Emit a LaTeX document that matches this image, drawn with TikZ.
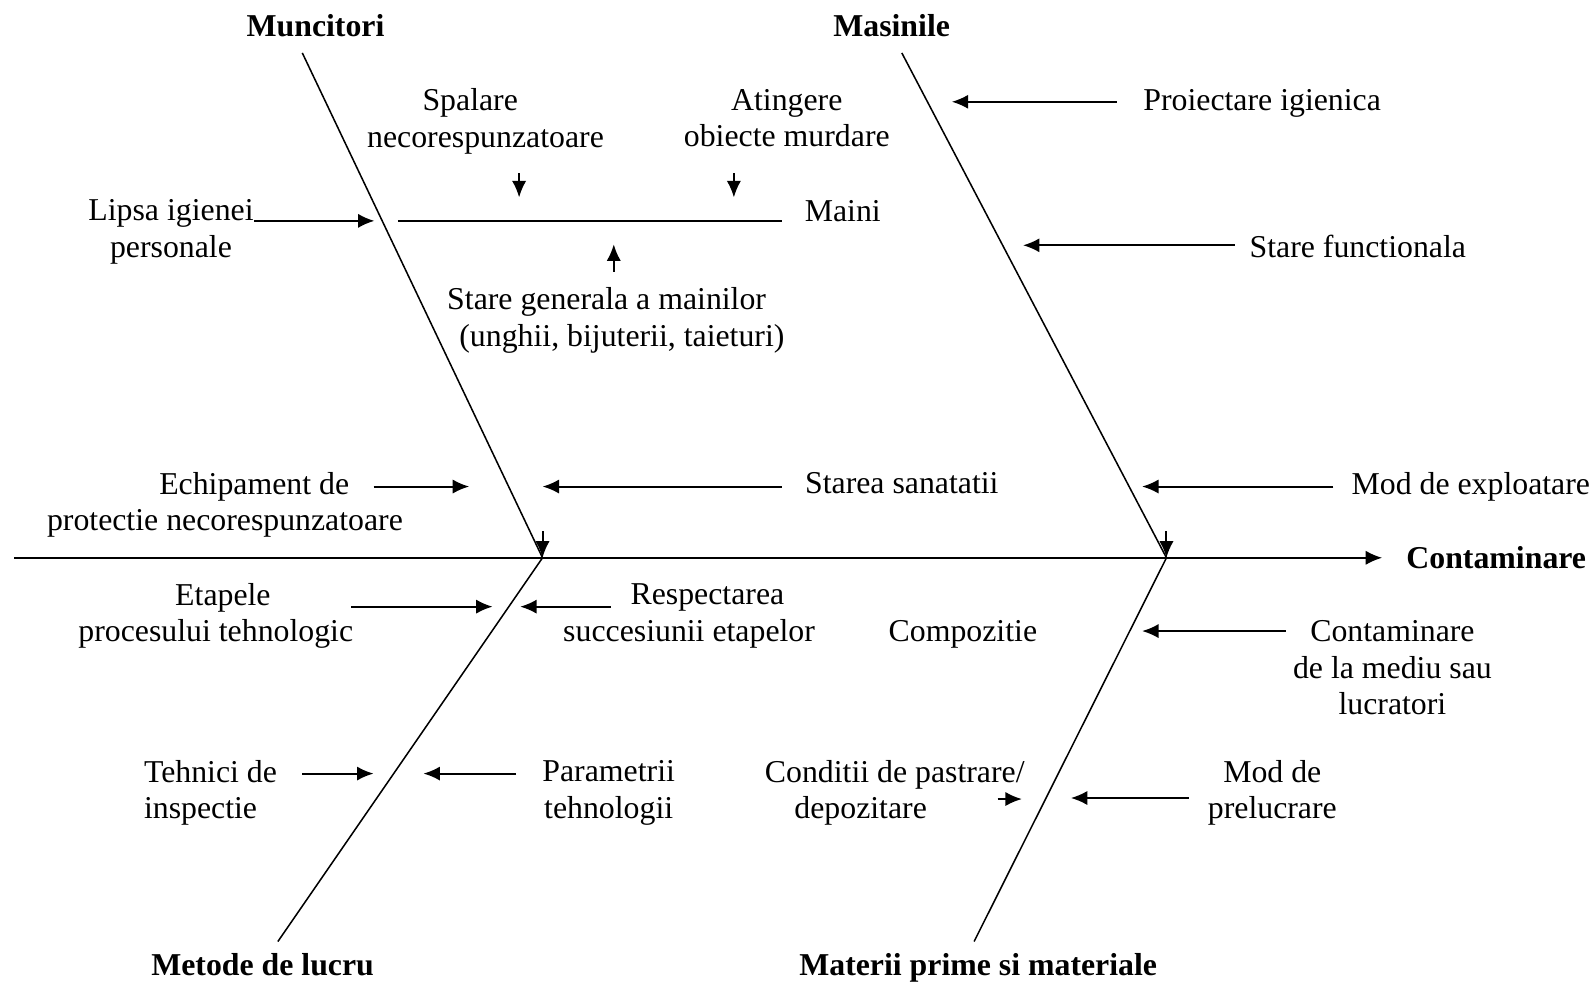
\documentclass[tikz,border=0pt]{standalone}
\usepackage{fontspec}
\setmainfont{Liberation Serif}
\usetikzlibrary{arrows.meta}
\usetikzlibrary{positioning}

\begin{document}
\begin{tikzpicture}[x=0.4pt,y=-0.4pt]
	%\draw[help lines] (0,0) grid[step=100] (1568,966);
	\useasboundingbox (0,0) rectangle (1568,966);
	
	\tikzstyle{tnode} = [inner sep=0pt,align=center,font=\fontsize{12.5}{14.4}\selectfont]
	\tikzstyle{hnode} = [inner sep=0pt,font=\fontsize{12.5}{14.4}\selectfont\bfseries]
	\tikzstyle{bone} = [line width=0.6pt]
	\tikzstyle{cedge} = [->,>={Latex[length=6.5pt,width=5.6pt]},line width=0.8pt]
	
	

\coordinate (s0) at (14,548);
\coordinate (se) at (1358,548);
\coordinate (j1) at (533,548);
\coordinate (j2) at (1146,548);
\coordinate (t1) at (297,52);
\coordinate (t2) at (886,52);
\coordinate (b1) at (273,925);
\coordinate (b2) at (957,925);

\draw [cedge] (s0) -- (se);
\draw [bone] (t1) -- (j1);
\draw [bone] (t2) -- (j2);
\draw [bone] (j1) -- (b1);
\draw [bone] (j2) -- (b2);

\coordinate (k1) at (533,522);
\coordinate (k2) at (1146,522);
\draw [cedge] (k1) -- (j1);
\draw [cedge] (k2) -- (j2);

\node[hnode] (mun) at (310,25) {Muncitori};
\node[hnode] (mas) at (876,25) {Masinile};
\node[hnode] (met) at (258,948) {Metode de lucru};
\node[hnode] (mat) at (961,951) {Materii prime si materiale};
\node[hnode] (cont) at (1470,548) {Contaminare};

% maini
\coordinate (m1) at (391,217);
\coordinate (m2) at (768,217);
\draw [bone,line width=0.8pt] (m1) -- (m2);
\node[tnode] (mai) at (828,207) {Maini};

\node[tnode] (spal) at (477,119) {Spalare\hspace*{12pt}\\necorespunzatoare};
\node[tnode] (ating) at (773,116) {Atingere\\obiecte murdare};
\node[tnode] (stgen) at (596,315) {Stare generala a mainilor\\\hspace*{12pt}(unghii, bijuterii, taieturi)};

\coordinate (a1) at (510,170);
\coordinate (a2) at (510,194);
\coordinate (a3) at (721,170);
\coordinate (a4) at (721,194);
\coordinate (a5) at (603,267);
\coordinate (a6) at (603,240);
\draw [cedge] (a1) -- (a2);
\draw [cedge] (a3) -- (a4);
\draw [cedge] (a5) -- (a6);

\node[tnode] (lipsa) at (168,228) {Lipsa igienei\\personale};
\node[tnode] (echip) at (221,496) {\hspace*{23pt}Echipament de\\protectie necorespunzatoare};
\node[tnode] (stsan) at (886,475) {Starea sanatatii};

\coordinate (c1) at (250,217);
\coordinate (c2) at (368,217);
\coordinate (c3) at (367,478);
\coordinate (c4) at (461,478);
\coordinate (c5) at (768,478);
\coordinate (c6) at (533,478);
\draw [cedge] (c1) -- (c2);
\draw [cedge] (c3) -- (c4);
\draw [cedge] (c5) -- (c6);

% masinile
\node[tnode] (proj) at (1240,102) {Proiectare igienica};
\node[tnode] (stfun) at (1334,242) {Stare functionala};
\node[tnode] (modexp) at (1445,478) {Mod de exploatare};

\coordinate (d1) at (1097,100);
\coordinate (d2) at (935,100);
\coordinate (d3) at (1213,241);
\coordinate (d4) at (1005,241);
\coordinate (d5) at (1310,478);
\coordinate (d6) at (1122,478);
\draw [cedge] (d1) -- (d2);
\draw [cedge] (d3) -- (d4);
\draw [cedge] (d5) -- (d6);

% metode
\node[tnode] (etap) at (212,605) {\hspace*{5.6pt}Etapele\\procesului tehnologic};
\node[tnode] (resp) at (677,605) {\hspace*{14.4pt}Respectarea\\succesiunii etapelor};
\node[tnode,anchor=west,align=left] (tehn) at (141,779) {Tehnici de\\inspectie};
\node[tnode] (param) at (598,779) {Parametrii\\tehnologii};

\coordinate (e1) at (345,596);
\coordinate (e2) at (484,596);
\coordinate (e3) at (600,596);
\coordinate (e4) at (511,596);
\coordinate (e5) at (297,760);
\coordinate (e6) at (367,760);
\coordinate (e7) at (507,760);
\coordinate (e8) at (416,760);
\draw [cedge] (e1) -- (e2);
\draw [cedge] (e3) -- (e4);
\draw [cedge] (e5) -- (e6);
\draw [cedge] (e7) -- (e8);

% materii
\node[tnode] (comp) at (946,623) {Compozitie};
\node[tnode] (contm) at (1368,656) {Contaminare\\de la mediu sau\\lucratori};
\node[tnode,anchor=west,align=left] (cond) at (751,779) {Conditii de pastrare/\\\hspace*{11.6pt}depozitare};
\node[tnode] (modprel) at (1250,779) {Mod de\\prelucrare};

\coordinate (f1) at (1263,620);
\coordinate (f2) at (1122,620);
\coordinate (f3) at (980,785);
\coordinate (f4) at (1004,785);
\coordinate (f5) at (1168,784);
\coordinate (f6) at (1052,784);
\draw [cedge] (f1) -- (f2);
\draw [cedge] (f3) -- (f4);
\draw [cedge] (f5) -- (f6);
\end{tikzpicture}
\end{document}
